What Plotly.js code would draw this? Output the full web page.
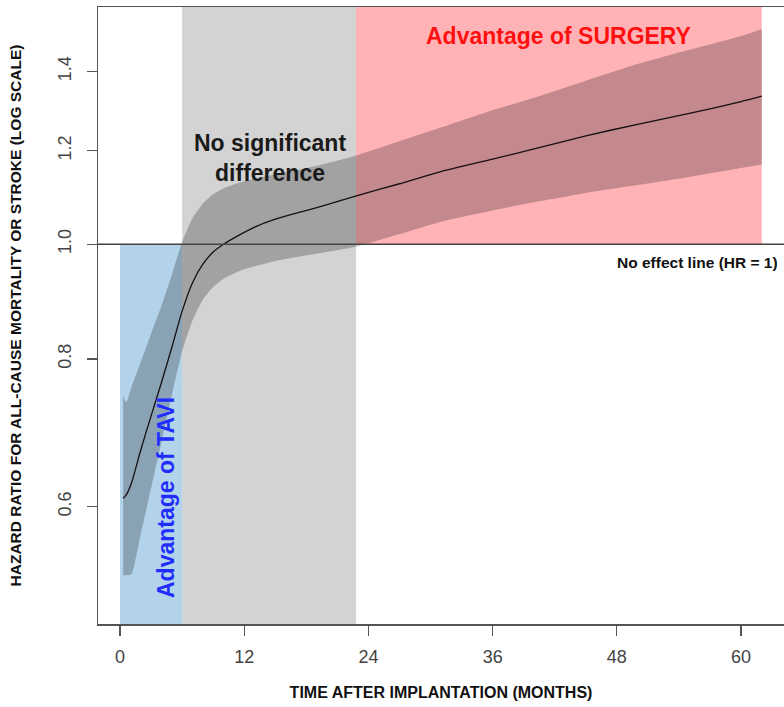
<!DOCTYPE html>
<html>
<head>
<meta charset="utf-8">
<script src="https://cdn.plot.ly/plotly-3.0.1.min.js"></script>
<style>
  html, body { margin: 0; padding: 0; background: #ffffff; overflow: hidden; }
  #chart { width: 784px; height: 707px; }
</style>
</head>
<body>
<div id="chart"></div>
<script>
// ---- data ----
const months = [0.3, 0.6, 1.1, 2, 3, 4, 5, 6, 7, 8, 9, 10, 11.5, 13, 15, 17.5, 20, 23, 27, 31, 36, 40, 45, 50, 55, 60, 62];
const hazardRatio = [0.610, 0.614, 0.628, 0.670, 0.716, 0.764, 0.818, 0.878, 0.928, 0.962, 0.985, 1.000, 1.018, 1.034, 1.050, 1.065, 1.080, 1.100, 1.125, 1.152, 1.180, 1.204, 1.235, 1.263, 1.290, 1.320, 1.334];
const upperCI = [0.745, 0.735, 0.757, 0.795, 0.840, 0.887, 0.942, 1.005, 1.052, 1.082, 1.102, 1.115, 1.127, 1.136, 1.146, 1.157, 1.171, 1.190, 1.222, 1.255, 1.298, 1.330, 1.375, 1.420, 1.460, 1.500, 1.520];
const lowerCI = [0.525, 0.525, 0.526, 0.569, 0.622, 0.681, 0.745, 0.812, 0.862, 0.898, 0.920, 0.935, 0.949, 0.958, 0.968, 0.977, 0.985, 0.996, 1.020, 1.045, 1.068, 1.085, 1.105, 1.122, 1.140, 1.160, 1.168];

const regionNames = ["No significant difference", "Advantage of TAVI", "Advantage of SURGERY"];
const regionStart = [6, 0, 22.8];
const regionEnd = [22.8, 6, 62];
const regionLow = [0.4775, 0.4775, 1.0];
const regionHigh = [1.587, 1.0, 1.587];
const regionColors = ["#d3d3d3", "#b3d3ea", "#ffb3b6"];

const noEffectHR = 1.0;
const xTicks = [0, 12, 24, 36, 48, 60];
const yTicks = [0.6, 0.8, 1.0, 1.2, 1.4];
const yTickText = ["0.6", "0.8", "1.0", "1.2", "1.4"];

const xRange = [-2.13, 64.15];
const yRange = [0.4775, 1.587];

// ---- traces ----
const FONT = "Liberation Sans, Arial, Helvetica, sans-serif";
const traces = [];

regionNames.forEach((name, i) => {
  traces.push({
    type: "scatter", mode: "lines", name: name,
    x: [regionStart[i], regionEnd[i], regionEnd[i], regionStart[i], regionStart[i]],
    y: [regionLow[i], regionLow[i], regionHigh[i], regionHigh[i], regionLow[i]],
    fill: "toself", fillcolor: regionColors[i],
    line: { width: 0, color: regionColors[i] },
    hoverinfo: "skip", showlegend: false
  });
});

// confidence band: lower edge, then upper edge filled down to it
traces.push({
  type: "scatter", mode: "lines", name: "Lower 95% CI",
  x: months, y: lowerCI,
  line: { width: 0, color: "rgba(0,0,0,0)", shape: "spline", smoothing: 0.5 },
  hoverinfo: "skip", showlegend: false
});
traces.push({
  type: "scatter", mode: "lines", name: "Upper 95% CI",
  x: months, y: upperCI,
  fill: "tonexty", fillcolor: "rgba(0,0,0,0.23)",
  line: { width: 0, color: "rgba(0,0,0,0)", shape: "spline", smoothing: 0.5 },
  hoverinfo: "skip", showlegend: false
});

traces.push({
  type: "scatter", mode: "lines", name: "Hazard ratio",
  x: months, y: hazardRatio,
  line: { color: "#151010", width: 1.3, shape: "spline", smoothing: 0.6 },
  showlegend: false
});

traces.push({
  type: "scatter", mode: "lines", name: "No effect line",
  x: xRange, y: [noEffectHR, noEffectHR],
  line: { color: "#444444", width: 1.6 },
  showlegend: false
});

// ---- layout ----
const layout = {
  width: 784, height: 707,
  margin: { l: 98, r: 0, t: 7, b: 83 },
  paper_bgcolor: "#ffffff", plot_bgcolor: "#ffffff",
  font: { family: FONT, color: "#444444" },
  xaxis: {
    range: xRange, tickvals: xTicks, ticktext: xTicks.map(String),
    showgrid: false, zeroline: false,
    showline: true, mirror: true, linecolor: "#555555", linewidth: 1.5,
    ticks: "outside", ticklen: 10, tickwidth: 1.3, tickcolor: "#555555",
    tickfont: { size: 18, color: "#444444", family: FONT },
    ticklabelstandoff: 6,
    title: { text: "TIME AFTER IMPLANTATION (MONTHS)", font: { size: 16, color: "#111111", family: FONT, weight: "bold" }, standoff: 20 }
  },
  yaxis: {
    type: "log",
    range: [Math.log10(yRange[0]), Math.log10(yRange[1])],
    tickvals: yTicks, ticktext: yTickText, tickangle: -90,
    showgrid: false, zeroline: false,
    showline: true, mirror: false, linecolor: "#555555", linewidth: 1.5,
    ticks: "outside", ticklen: 10, tickwidth: 1.3, tickcolor: "#555555",
    tickfont: { size: 18, color: "#444444", family: FONT },
    ticklabelstandoff: 8,
    title: { text: "HAZARD RATIO FOR ALL-CAUSE MORTALITY OR STROKE (LOG SCALE)", font: { size: 15.5, color: "#111111", family: FONT, weight: "bold" }, standoff: 30 }
  },
  annotations: [
    { xref: "paper", yref: "paper", x: 0.6706, y: 0.953, text: "Advantage of SURGERY", showarrow: false,
      font: { size: 23, color: "#ff1010", family: FONT, weight: "bold" }, xanchor: "center", yanchor: "middle" },
    { xref: "paper", yref: "paper", x: 0.2507, y: 0.7545, text: "No significant<br>difference", showarrow: false,
      font: { size: 23, color: "#1a1a1a", family: FONT, weight: "bold" }, xanchor: "center", yanchor: "middle" },
    { xref: "paper", yref: "paper", x: 0.0991, y: 0.2058, text: "Advantage of TAVI", showarrow: false, textangle: -90,
      font: { size: 23, color: "#1f2eff", family: FONT, weight: "bold" }, xanchor: "center", yanchor: "middle" },
    { xref: "paper", yref: "paper", x: 0.9942, y: 0.5867, text: "No effect line (HR = 1)", showarrow: false,
      font: { size: 15.5, color: "#111111", family: FONT, weight: "bold" }, xanchor: "right", yanchor: "middle" }
  ],
  showlegend: false
};

Plotly.newPlot("chart", traces, layout, { displayModeBar: false, staticPlot: true });
</script>
</body>
</html>
